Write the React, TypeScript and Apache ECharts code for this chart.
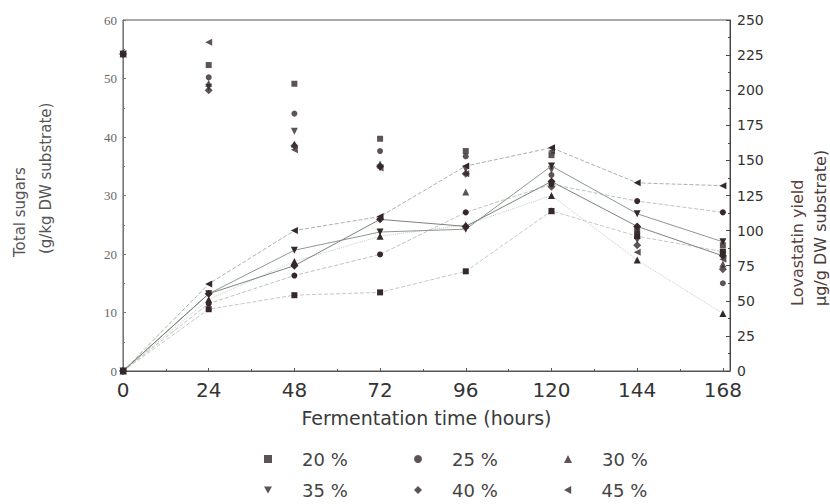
import React, { useEffect, useRef } from 'react';
import * as echarts from 'echarts';

// Fermentation time (hours)
const hours = [0, 24, 48, 72, 96, 120, 144, 168];
const xTicks = [0, 24, 48, 72, 96, 120, 144, 168];
const seriesNames = ['20 %', '25 %', '30 %', '35 %', '40 %', '45 %'];

// Total sugars (g/kg DW substrate) - left axis
const sugar20 = [54.2, 52.3, 49.1, 39.7, 37.6, 36.9, 24.1, 21.5];
const sugar25 = [54.2, 50.2, 44.0, 37.6, 36.7, 33.5, 23.6, 15.0];
const sugar30 = [54.2, 49.2, 38.8, 35.4, 30.6, 27.4, 23.2, 18.3];
const sugar35 = [54.2, 48.5, 41.0, 34.7, 34.5, 34.4, 22.4, 19.8];
const sugar40 = [54.2, 48.0, 38.5, 35.0, 33.7, 31.5, 21.5, 17.4];
const sugar45 = [54.2, 56.2, 37.8, 34.7, 33.7, 37.6, 20.3, 19.1];

// Lovastatin yield (µg/g DW substrate) - right axis
const lova20 = [0, 44, 54, 56, 71, 114, 96, 85];
const lova25 = [0, 48, 68, 83, 113, 133, 121, 113];
const lova30 = [0, 51, 78, 96, 104, 125, 79, 41];
const lova35 = [0, 55, 86, 99, 101, 146, 112, 92];
const lova40 = [0, 55, 75, 108, 103, 135, 103, 82];
const lova45 = [0, 62, 100, 110, 146, 159, 134, 132];

const sugars = [sugar20, sugar25, sugar30, sugar35, sugar40, sugar45];
const lovas = [lova20, lova25, lova30, lova35, lova40, lova45];

const symbols = [
  'rect',
  'circle',
  'triangle',
  'path://M0,0L10,0L5,9Z',
  'diamond',
  'path://M9,0L9,10L0,5Z',
];
const symbolSizes = [6, 6, 7, 7, 8, 7];
const lineColors = ['#c3cac3', '#bcc4bc', '#c6cbc6', '#8f988f', '#7c847c', '#aab2aa'];
const lineTypes: any[] = ['dashed', 'dashed', 'dotted', 'solid', 'solid', 'dashed'];
const markerColor = '#35282a';

const legendPos = [
  [264, 450],
  [414, 450],
  [564, 450],
  [264, 481],
  [414, 481],
  [564, 481],
];

export default function App() {
  const ref = useRef<HTMLDivElement>(null);
  useEffect(() => {
    if (!ref.current) return;
    const chart = echarts.init(ref.current, undefined, { renderer: 'svg' });
    const sugarSeries = seriesNames.map((name, i) => ({
      name,
      type: 'scatter',
      yAxisIndex: 0,
      symbol: symbols[i],
      symbolSize: symbolSizes[i],
      itemStyle: { color: markerColor },
      clip: false,
      silent: true,
      data: hours.map((h, j) => [h, sugars[i][j]]),
    }));
    const lovaSeries = seriesNames.map((name, i) => ({
      name,
      type: 'line',
      yAxisIndex: 1,
      symbol: symbols[i],
      symbolSize: symbolSizes[i],
      showSymbol: true,
      itemStyle: { color: markerColor },
      lineStyle: { color: lineColors[i], width: 1, type: lineTypes[i] },
      clip: false,
      silent: true,
      data: hours.map((h, j) => [h, lovas[i][j]]),
    }));
    const legends = seriesNames.map((name, i) => ({
      data: [name],
      left: legendPos[i][0],
      top: legendPos[i][1],
      padding: 0,
      itemWidth: 8,
      itemHeight: 8,
      selectedMode: false,
      textStyle: {
        fontFamily: 'DejaVu Sans',
        fontSize: 18,
        color: '#444',
        padding: [0, 0, 0, 25],
      },
    }));
    chart.setOption({
      animation: false,
      backgroundColor: '#fff',
      grid: {
        left: 123,
        right: 100,
        top: 20,
        bottom: 133,
        show: true,
        borderColor: '#555',
        borderWidth: 1,
        backgroundColor: 'transparent',
      },
      legend: legends,
      xAxis: {
        type: 'value',
        min: 0,
        max: 170,
        interval: 24,
        name: 'Fermentation time (hours)',
        nameLocation: 'middle',
        nameGap: 37,
        nameTextStyle: { fontFamily: 'DejaVu Sans', fontSize: 19, color: '#3a3a3a' },
        axisLine: { show: true, lineStyle: { color: '#555' } },
        axisTick: { show: true, inside: true, length: 3, lineStyle: { color: '#555' } },
        minorTick: { show: true, splitNumber: 2, length: 2, lineStyle: { color: '#555' } },
        splitLine: { show: false },
        axisLabel: {
          margin: 9,
          fontFamily: 'DejaVu Sans',
          fontSize: 20,
          color: '#333',
          showMaxLabel: false,
          formatter: (v: number) => (xTicks.includes(v) ? String(v) : ''),
        },
      },
      yAxis: [
        {
          type: 'value',
          position: 'left',
          min: 0,
          max: 60,
          interval: 10,
          axisLine: { show: true, lineStyle: { color: '#777' } },
          axisTick: { show: true, inside: true, length: 3, lineStyle: { color: '#777' } },
          minorTick: { show: true, splitNumber: 2, length: 2, lineStyle: { color: '#777' } },
          splitLine: { show: false },
          axisLabel: {
            margin: 6,
            fontFamily: 'Liberation Serif',
            fontSize: 13,
            color: '#666',
          },
        },
        {
          type: 'value',
          position: 'right',
          min: 0,
          max: 250,
          interval: 25,
          axisLine: { show: true, lineStyle: { color: '#444' } },
          axisTick: { show: true, inside: true, length: 4, lineStyle: { color: '#444' } },
          minorTick: { show: true, splitNumber: 2, length: 2, lineStyle: { color: '#444' } },
          splitLine: { show: false },
          axisLabel: {
            margin: 7,
            fontFamily: 'DejaVu Sans',
            fontSize: 14,
            color: '#333',
          },
        },
      ],
      graphic: [
        {
          type: 'text',
          x: 20,
          y: 257,
          rotation: Math.PI / 2,
          style: {
            text: 'Total sugars',
            fontFamily: 'DejaVu Sans',
            fontSize: 15,
            fill: '#555',
            textAlign: 'left',
            textVerticalAlign: 'middle',
          },
        },
        {
          type: 'text',
          x: 46,
          y: 254,
          rotation: Math.PI / 2,
          style: {
            text: '(g/kg DW substrate)',
            fontFamily: 'DejaVu Sans',
            fontSize: 15,
            fill: '#555',
            textAlign: 'left',
            textVerticalAlign: 'middle',
          },
        },
        {
          type: 'text',
          x: 797,
          y: 306,
          rotation: Math.PI / 2,
          style: {
            text: 'Lovastatin yield',
            fontFamily: 'DejaVu Sans',
            fontSize: 16,
            fill: '#5a4040',
            textAlign: 'left',
            textVerticalAlign: 'middle',
          },
        },
        {
          type: 'text',
          x: 820,
          y: 306,
          rotation: Math.PI / 2,
          style: {
            text: 'µg/g DW substrate)',
            fontFamily: 'DejaVu Sans',
            fontSize: 16,
            fill: '#4a3a3a',
            textAlign: 'left',
            textVerticalAlign: 'middle',
          },
        },
      ],
      series: [...sugarSeries, ...lovaSeries],
    });
    return () => chart.dispose();
  }, []);
  return (
    <div
      ref={ref}
      style={{ position: 'absolute', left: 0, top: 0, width: 830, height: 504 }}
    />
  );
}
